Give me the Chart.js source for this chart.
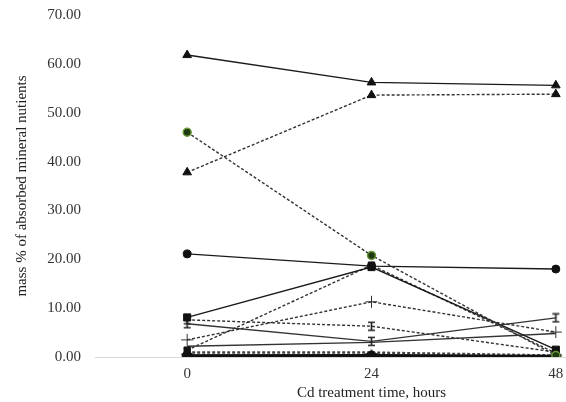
<!DOCTYPE html>
<html>
<head>
<meta charset="utf-8">
<script src="https://cdn.jsdelivr.net/npm/chart.js@4/dist/chart.umd.min.js"></script>
<style>
  html, body { margin: 0; padding: 0; background: #fff; overflow: hidden; }
  #wrap { width: 660px; height: 402px; position: relative; }
</style>
</head>
<body>
<div id="wrap"><canvas id="chart"></canvas></div>
<script>
// time points (hours of Cd treatment)
const hours = ['0', '24', '48'];

// mass % of each absorbed nutrient at 0 / 24 / 48 h
const solidTriangle = [61.8, 56.2, 55.6];
const dashedTriangle = [37.8, 53.6, 53.8];
const dashedGreenCircle = [46.0, 20.8, 0.3];
const solidCircle = [21.1, 18.6, 18.0];
const solidSquare = [8.1, 18.4, 1.5];
const dashedSquare = [1.4, 18.8, 0.8];
const dashedPlus = [3.5, 11.3, 5.1];
const dashedBar = [7.6, 6.3, 1.0];
const solidBar = [6.8, 3.2, 8.0];
const solidPlain = [2.2, 3.0, 4.8];
const baseSolid = [0.2, 0.2, 0.1];
const baseDashed = [0.9, 0.9, 0.3];
const baseStar = [0.3, 0.4, 0.1];

const yTicks = [0, 10, 20, 30, 40, 50, 60, 70];

// "I" shaped marker
function barMarker() {
  const c = document.createElement('canvas');
  c.width = 9; c.height = 11;
  const ctx = c.getContext('2d');
  ctx.strokeStyle = '#222';
  ctx.lineWidth = 1.6;
  ctx.beginPath();
  ctx.moveTo(1, 1.5); ctx.lineTo(8, 1.5);
  ctx.moveTo(1, 9.5); ctx.lineTo(8, 9.5);
  ctx.moveTo(4.5, 1.5); ctx.lineTo(4.5, 9.5);
  ctx.stroke();
  return c;
}

// filled five point star
function starMarker() {
  const c = document.createElement('canvas');
  c.width = 14; c.height = 14;
  const ctx = c.getContext('2d');
  ctx.fillStyle = '#111';
  ctx.beginPath();
  for (let i = 0; i < 10; i++) {
    const r = i % 2 === 0 ? 7 : 3;
    const a = -Math.PI / 2 + i * Math.PI / 5;
    const x = 7 + r * Math.cos(a), y = 7.5 + r * Math.sin(a);
    if (i === 0) ctx.moveTo(x, y); else ctx.lineTo(x, y);
  }
  ctx.closePath();
  ctx.fill();
  return c;
}

const DASH = [3, 2];

function series(data, opts) {
  return Object.assign({
    data: data,
    borderColor: '#1a1a1a',
    backgroundColor: '#111',
    borderWidth: 1.4,
    pointRadius: 4.5,
    pointBorderWidth: 1,
    pointBorderColor: '#111',
    tension: 0,
    fill: false
  }, opts);
}

const datasets = [
  series(solidTriangle, { pointStyle: 'triangle', pointRadius: 5 }),
  series(dashedTriangle, { pointStyle: 'triangle', pointRadius: 5, borderDash: DASH, borderColor: '#333' }),
  series(dashedGreenCircle, { pointStyle: 'circle', pointRadius: 4, borderDash: DASH, borderColor: '#333',
    backgroundColor: '#1f3a10', pointBorderColor: '#6a9a3a', pointBorderWidth: 1.5 }),
  series(solidCircle, { pointStyle: 'circle', pointRadius: 4 }),
  series(solidSquare, { pointStyle: 'rect', pointRadius: 5 }),
  series(dashedSquare, { pointStyle: 'rect', pointRadius: 4.5, borderDash: DASH, borderColor: '#333' }),
  series(dashedPlus, { pointStyle: 'cross', pointRadius: 6, borderDash: DASH, borderColor: '#333', pointBorderColor: '#333' }),
  series(dashedBar, { pointStyle: barMarker(), borderDash: DASH, borderColor: '#333' }),
  series(solidBar, { pointStyle: barMarker(), borderColor: '#333' }),
  series(solidPlain, { pointRadius: 0, borderColor: '#333' }),
  series(baseSolid, { pointStyle: 'circle', pointRadius: 5, borderWidth: 3.5, borderColor: '#111' }),
  series(baseDashed, { pointRadius: 0, borderDash: DASH, borderWidth: 2.5, borderColor: '#444' }),
  series(baseStar, { pointStyle: starMarker(), borderWidth: 2 })
];

const font = { family: '"Liberation Serif", "Times New Roman", serif', size: 15 };

new Chart(document.getElementById('chart'), {
  type: 'line',
  data: { labels: hours, datasets: datasets },
  options: {
    responsive: true,
    maintainAspectRatio: false,
    animation: false,
    layout: { padding: { top: 15, right: 12, left: 0, bottom: 0 } },
    plugins: { legend: { display: false }, tooltip: { enabled: false } },
    scales: {
      x: {
        offset: true,
        grid: { display: false, drawTicks: false },
        border: { display: true, color: '#d9d9d9', width: 1 },
        ticks: { font: font, color: '#333', padding: 8, maxRotation: 0 },
        title: { display: true, text: 'Cd treatment time, hours', font: font, color: '#222', padding: { top: 4, bottom: 0 } },
        afterFit: s => { s.height = 45; s.paddingLeft = 0; s.paddingRight = 0; }
      },
      y: {
        min: 0,
        max: 70,
        grid: { display: false, drawTicks: false },
        border: { display: false },
        afterBuildTicks: s => { s.ticks = yTicks.map(v => ({ value: v })); },
        ticks: { font: font, color: '#333', padding: 14, callback: v => Number(v).toFixed(2) },
        title: { display: true, text: 'mass % of absorbed mineral nutients', font: font, color: '#222', padding: { top: 13, bottom: 0 } },
        afterFit: s => { s.width = 95; s.paddingTop = 0; s.paddingBottom = 0; }
      }
    }
  }
});
</script>
</body>
</html>
